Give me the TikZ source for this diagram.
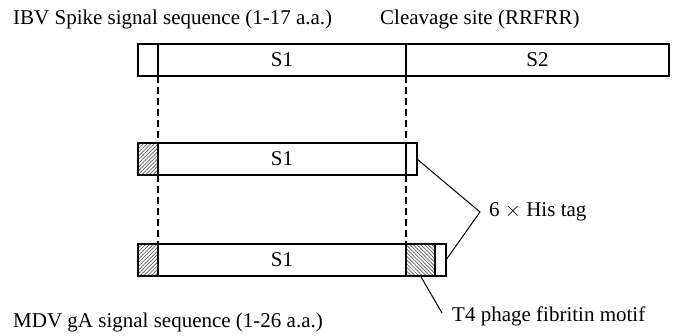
\documentclass[tikz,border=0pt]{standalone}
\usepackage{fontspec}
\setmainfont{Liberation Serif}
\usetikzlibrary{positioning,patterns.meta}
\tikzstyle{box} = [
    rectangle,
    draw,
    line width = 1.8pt,
    outer sep = 0pt,
    inner sep = 0pt,
    text centered,
    minimum height = 32pt
]
\tikzstyle{seg} = [
    box,
    fill = white
]
\tikzstyle{hatch} = [
    box,
    pattern = {Lines[angle=45, distance=2.6pt, line width=0.7pt]},
    pattern color = black!65
]
\tikzstyle{backhatch} = [
    box,
    pattern = {Lines[angle=-45, distance=2.6pt, line width=0.7pt]},
    pattern color = black!65
]
\tikzstyle{guide} = [
    dash pattern = on 7pt off 4pt,
    line width = 1.1pt
]
\tikzstyle{pointer} = [
    line width = 1pt
]
\tikzstyle{note} = [
    inner sep = 0pt,
    anchor = base west
]

\begin{document}
\begin{tikzpicture}[x=1pt, y=-1pt, font=\fontsize{21}{24}\selectfont]

                \useasboundingbox (0,0) rectangle (678,335);

                % IBV spike
                \node [seg, minimum width = 20pt, anchor = north west] (sigS) at (138,44) {};
                \node [seg, minimum width = 248pt, right = 0pt of sigS] (s1S) {S1};
                \node [seg, minimum width = 263pt, right = 0pt of s1S] (s2S) {S2};

                % S1 with His tag
                \node [hatch, minimum width = 20pt, anchor = north west] (sigA) at (138,143) {};
                \node [seg, minimum width = 248pt, right = 0pt of sigA] (s1A) {S1};
                \node [seg, minimum width = 11pt, right = 0pt of s1A] (hisA) {};

                % S1 with fibritin and His tag
                \node [hatch, minimum width = 20pt, anchor = north west] (sigB) at (138,244) {};
                \node [seg, minimum width = 248pt, right = 0pt of sigB] (s1B) {S1};
                \node [backhatch, minimum width = 29pt, right = 0pt of s1B] (fibB) {};
                \node [seg, minimum width = 11pt, right = 0pt of fibB] (hisB) {};

                % guides
                \draw [guide] (s1S.south west) -- (s1A.north west);
                \draw [guide] (s1A.south west) -- (s1B.north west);
                \draw [guide] (s1S.south east) -- (s1A.north east);
                \draw [guide] (s1A.south east) -- (s1B.north east);

                % labels
                \node [note] (ibvSig) at (13,24) {IBV Spike signal sequence (1-17 a.a.)};
                \node [note] (cleave) at (380,24) {Cleavage site (RRFRR)};
                \node [note] (mdvSig) at (13,327) {MDV gA signal sequence (1-26 a.a.)};

                \coordinate (hisApex) at (480,212);
                \draw [pointer] (hisA.east) -- (hisApex) -- (hisB.east);
                \node [note, anchor = west, right = 9pt of hisApex] (hisTag) {6 $\times$ His tag};

                \coordinate (fibEnd) at (442,313);
                \draw [pointer] (fibB.south) -- (fibEnd);
                \node [note] (fibTag) at (452,321) {T4 phage fibritin motif};

            \end{tikzpicture}
\end{document}
